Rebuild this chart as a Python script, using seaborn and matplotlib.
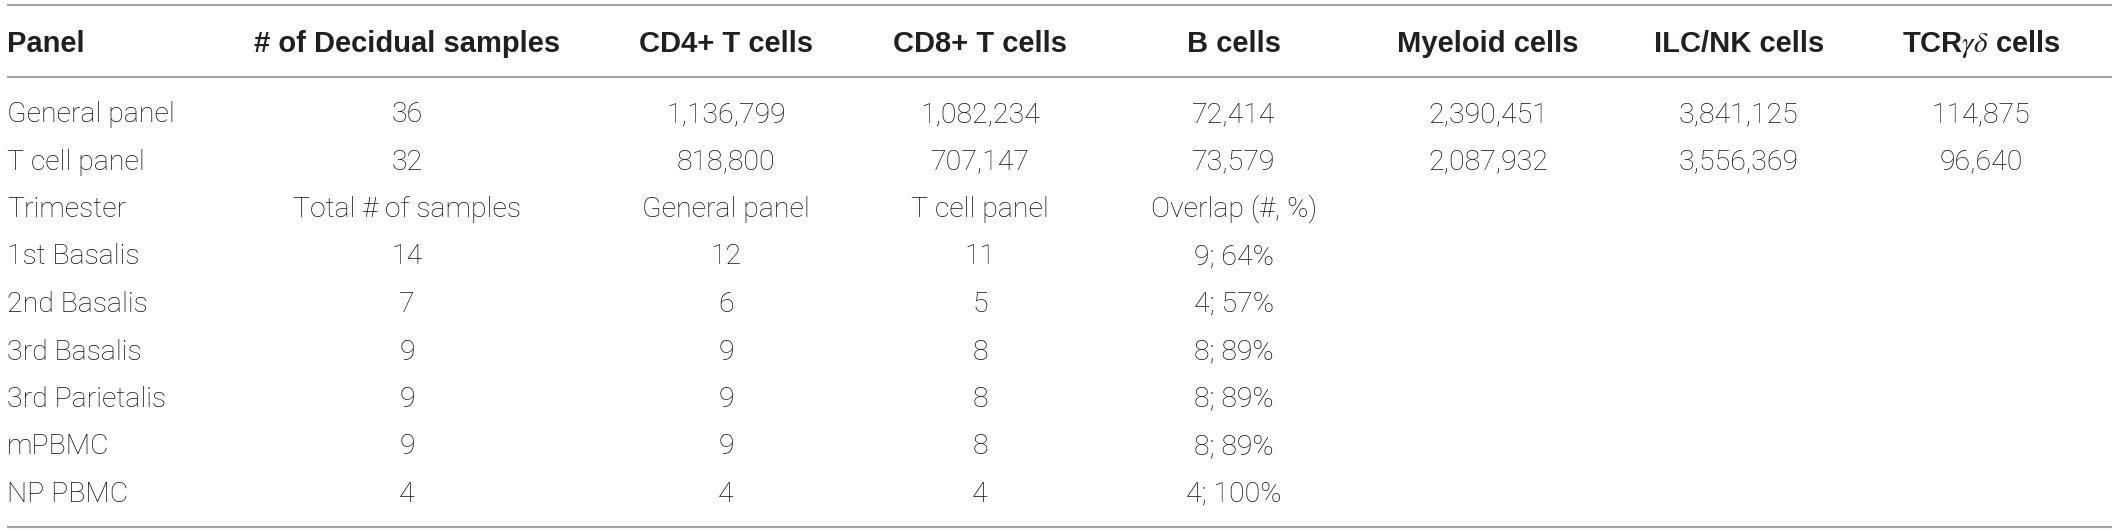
import matplotlib
matplotlib.use("Agg")
import matplotlib.pyplot as plt
import seaborn as sns

# ---------------- data ----------------
header = ["Panel", "# of Decidual samples", "CD4+ T cells", "CD8+ T cells",
          "B cells", "Myeloid cells", "ILC/NK cells", r"TCR$\gamma\delta$ cells"]
panel_rows = ["General panel", "T cell panel"]
decidual_samples = [36, 32]
cd4_t = [1136799, 818800]
cd8_t = [1082234, 707147]
b_cells = [72414, 73579]
myeloid = [2390451, 2087932]
ilc_nk = [3841125, 3556369]
tcr_gd = [114875, 96640]

sub_header = ["Trimester", "Total # of samples", "General panel", "T cell panel", "Overlap (#, %)"]
trimesters = ["1st Basalis", "2nd Basalis", "3rd Basalis", "3rd Parietalis", "mPBMC", "NP PBMC"]
total_samples = [14, 7, 9, 9, 9, 4]
general_panel = [12, 6, 9, 9, 9, 4]
tcell_panel = [11, 5, 8, 8, 8, 4]
overlap_n = [9, 4, 8, 8, 8, 4]
overlap_pct = [64, 57, 89, 89, 89, 100]

# ---------------- style ----------------
sns.set_theme(style="white")
plt.rcParams["mathtext.fontset"] = "stix"
TXT = "#231f20"
LINE = "#a3a3a3"
BODY = dict(family=["Roboto", "DejaVu Sans"], fontweight="light", fontsize=20.5, color="#111111")
HEAD = dict(family=["Liberation Sans", "DejaVu Sans"], fontweight="bold", fontsize=21, color=TXT)

W, H = 2118, 532
fig = plt.figure(figsize=(W / 100, H / 100), dpi=100)
ax = fig.add_axes([0, 0, 1, 1])
ax.set_xlim(0, W)
ax.set_ylim(H, 0)
ax.axis("off")

left_x = 7
col_x = [407, 726, 980, 1234, 1488, 1739, 1981]
header_y = 42
row0_y = 112
row_step = 47.5
cap_half = 10

def put(x, y, s, props, ha="center"):
    ax.text(x, y + cap_half, s, ha=ha, va="baseline", **props)

# rules
for y in (5, 77, 527):
    ax.plot([left_x, 2112], [y, y], color=LINE, lw=1.5, solid_capstyle="butt")

# header
put(left_x, header_y, header[0], HEAD, ha="left")
for x, h in zip(col_x, header[1:]):
    put(x, header_y, h, HEAD)

fmt = lambda v: f"{v:,}"

# panel rows
for i, name in enumerate(panel_rows):
    y = row0_y + i * row_step
    put(left_x, y, name, BODY, ha="left")
    vals = [decidual_samples[i], cd4_t[i], cd8_t[i], b_cells[i],
            myeloid[i], ilc_nk[i], tcr_gd[i]]
    for x, v in zip(col_x, vals):
        put(x, y, fmt(v), BODY)

# sub header row
y = row0_y + 2 * row_step
put(left_x, y, sub_header[0], BODY, ha="left")
for x, h in zip(col_x[:4], sub_header[1:]):
    put(x, y, h, BODY)

# trimester rows
for j, name in enumerate(trimesters):
    y = row0_y + (3 + j) * row_step
    put(left_x, y, name, BODY, ha="left")
    vals = [str(total_samples[j]), str(general_panel[j]), str(tcell_panel[j]),
            f"{overlap_n[j]}; {overlap_pct[j]}%"]
    for x, v in zip(col_x[:4], vals):
        put(x, y, v, BODY)

fig.savefig("out.png", dpi=100, facecolor="white")
